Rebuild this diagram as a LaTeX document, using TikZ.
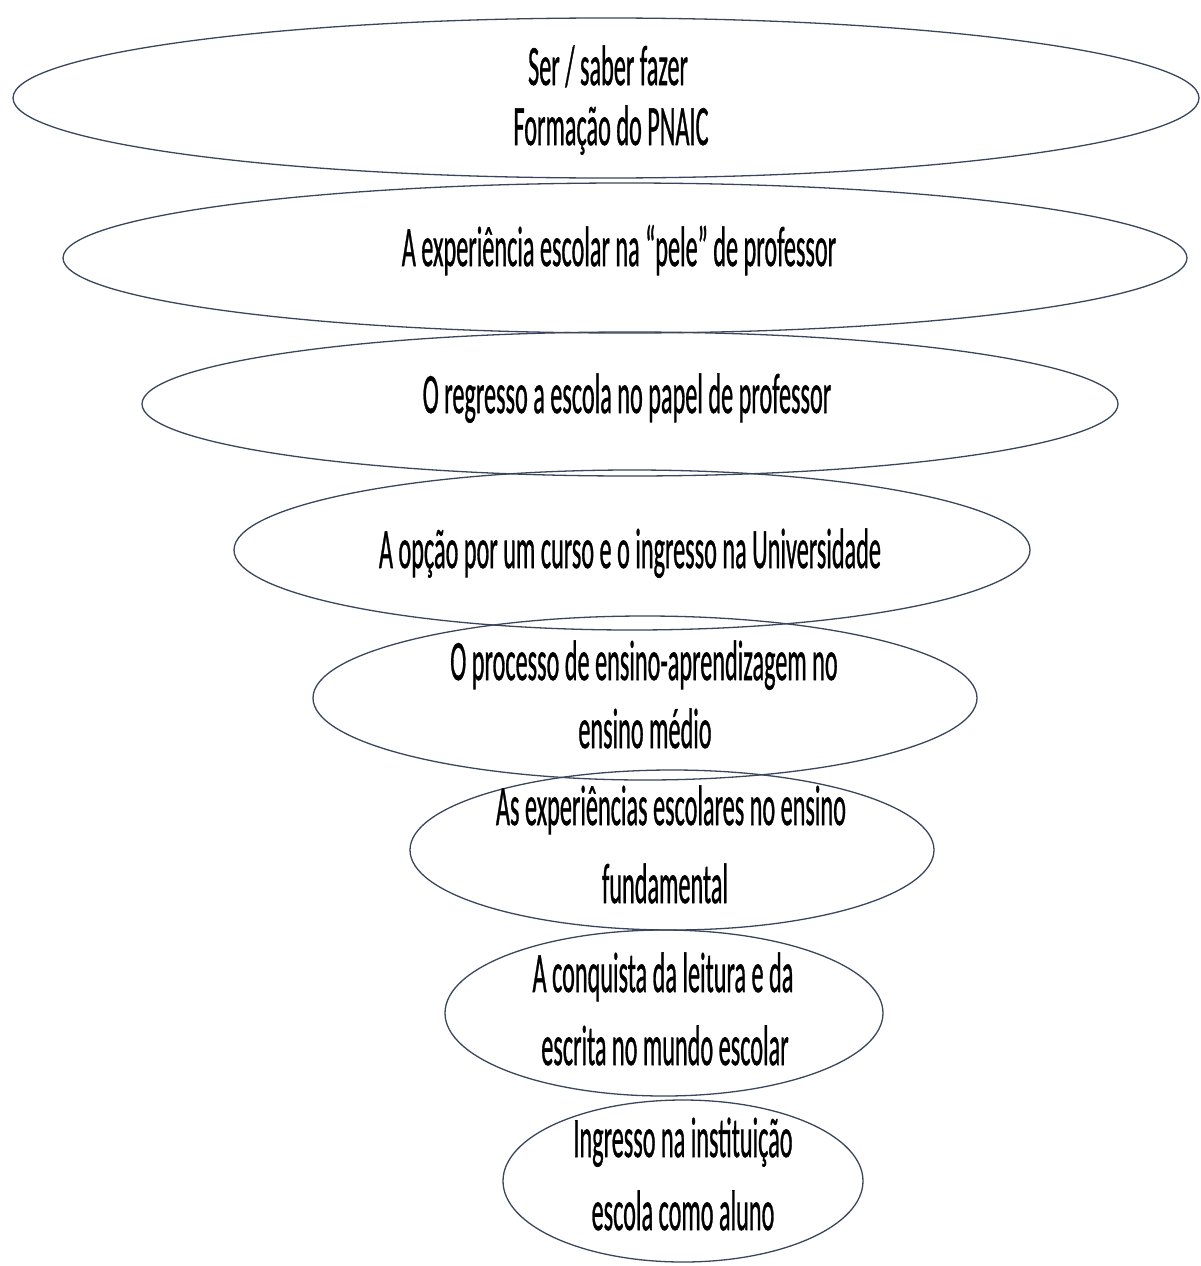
\documentclass[tikz,border=0pt]{standalone}
\usepackage{fontspec}
\usepackage{graphicx}
\setmainfont{Carlito}[FakeBold=1.1]
\usetikzlibrary{shapes.geometric}
\definecolor{ringcol}{RGB}{58,70,92}
\newcommand{\sqz}[1]{\scalebox{0.425}[1]{#1}}
\tikzset{
  ring/.style={draw=ringcol, line width=1.3pt, ellipse, inner sep=0pt},
  lbl/.style={anchor=base, inner sep=0pt, font=\fontsize{57}{62}\selectfont, text=black}
}
\begin{document}
\begin{tikzpicture}[x=1pt,y=-1pt]
\useasboundingbox (0,0) rectangle (1201,1266);
\fill[white] (0,0) rectangle (1201,1266);
% rings
\node[ring, minimum width=1186pt, minimum height=160pt] (e1) at (606,98) {};
\node[ring, minimum width=1124pt, minimum height=150pt] (e2) at (625,258) {};
\node[ring, minimum width=976pt, minimum height=144pt] (e3) at (630,404) {};
\node[ring, minimum width=796pt, minimum height=160pt] (e4) at (632,550) {};
\node[ring, minimum width=664pt, minimum height=164pt] (e5) at (645,698) {};
\node[ring, minimum width=524pt, minimum height=160pt] (e6) at (672,850) {};
\node[ring, minimum width=438pt, minimum height=166pt] (e7) at (664,1013) {};
\node[ring, minimum width=360pt, minimum height=162pt] (e8) at (683,1181) {};
% labels
\node[lbl] (t1a) at (608,85) {\sqz{Ser / saber fazer}};
\node[lbl] (t1b) at (611,145) {\sqz{Formação do PNAIC}};
\node[lbl] (t2) at (619,266) {\sqz{A experiência escolar na “pele” de professor}};
\node[lbl] (t3) at (627,413) {\sqz{O regresso a escola no papel de professor}};
\node[lbl] (t4) at (630,568) {\sqz{A opção por um curso e o ingresso na Universidade}};
\node[lbl] (t5a) at (644,680) {\sqz{O processo de ensino-aprendizagem no}};
\node[lbl] (t5b) at (645,748) {\sqz{ensino médio}};
\node[lbl] (t6a) at (671,825) {\sqz{As experiências escolares no ensino}};
\node[lbl] (t6b) at (665,903) {\sqz{fundamental}};
\node[lbl] (t7a) at (663,992) {\sqz{A conquista da leitura e da}};
\node[lbl] (t7b) at (665,1065) {\sqz{escrita no mundo escolar}};
\node[lbl] (t8a) at (683,1157) {\sqz{Ingresso na instituição}};
\node[lbl] (t8b) at (683,1230) {\sqz{escola como aluno}};
\end{tikzpicture}
\end{document}
